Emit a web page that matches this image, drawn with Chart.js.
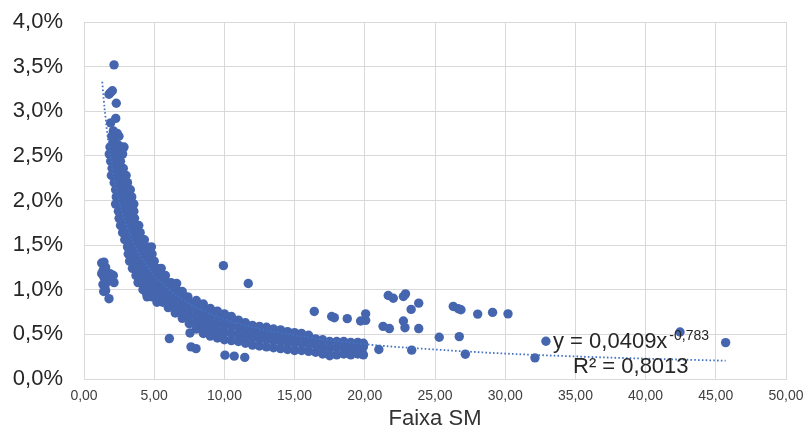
<!DOCTYPE html>
<html><head><meta charset="utf-8">
<script src="https://cdn.jsdelivr.net/npm/chart.js@4.4.1/dist/chart.umd.min.js"></script>
<style>html,body{margin:0;padding:0;background:#fff}</style>
</head><body>
<canvas id="c" width="806" height="434"></canvas>
<script>
// ---- Data (x = Faixa SM, y = percent) ----
const xTicks = [0,5,10,15,20,25,30,35,40,45,50];
const yTicks = [0,0.5,1,1.5,2,2.5,3,3.5,4];

const nuvemTopo = [
 [2.14,3.52],[1.78,3.19],[1.9,3.21],[2.02,3.23],[2.3,3.09],[2.26,2.92],[1.9,2.87],[2.09,2.78],
 [2.37,2.75],[2.49,2.72],[2.2,2.70],[1.97,2.72],[2.05,2.65],[2.8,2.59],[2.45,2.62]
];

const faixaIngreme = [
 [1.85,2.60],[2.25,2.60],[2.6,2.60],[2.85,2.60],
 [1.8,2.52],[2.1,2.52],[2.45,2.52],[2.75,2.52],
 [1.9,2.44],[2.25,2.44],[2.6,2.44],
 [2.0,2.36],[2.4,2.36],[2.8,2.36],
 [1.95,2.28],[2.3,2.28],[2.7,2.28],[3.0,2.28],
 [2.15,2.20],[2.5,2.20],[2.85,2.20],[3.1,2.20],
 [2.25,2.12],[2.6,2.12],[2.95,2.12],[3.3,2.12],
 [2.3,2.04],[2.65,2.04],[3.0,2.04],[3.4,2.04],
 [2.25,1.96],[2.6,1.96],[2.95,1.96],[3.3,1.96],[3.55,1.96],
 [2.45,1.88],[2.8,1.88],[3.15,1.88],[3.55,1.88],
 [2.5,1.80],[2.85,1.80],[3.2,1.80],[3.6,1.80],
 [2.6,1.72],[2.95,1.72],[3.3,1.72],[3.65,1.72],[3.9,1.72],
 [2.75,1.64],[3.1,1.64],[3.45,1.64],[3.8,1.64],[4.0,1.64],
 [2.9,1.56],[3.25,1.56],[3.6,1.56],[3.95,1.56],[4.3,1.56],
 [3.1,1.48],[3.45,1.48],[3.8,1.48],[4.15,1.48],[4.5,1.48],[4.8,1.48],
 [3.15,1.40],[3.5,1.40],[3.85,1.40],[4.2,1.40],[4.55,1.40],[4.85,1.40],
 [3.25,1.32],[3.6,1.32],[3.95,1.32],[4.3,1.32],[4.65,1.32],[5.0,1.32],
 [3.45,1.24],[3.8,1.24],[4.15,1.24],[4.5,1.24],[4.85,1.24],[5.2,1.24],[5.5,1.24],
 [3.7,1.16],[4.05,1.16],[4.4,1.16],[4.75,1.16],[5.1,1.16],[5.45,1.16],[5.8,1.16],
 [3.85,1.08],[4.2,1.08],[4.55,1.08],[4.9,1.08],[5.25,1.08],[5.6,1.08],[5.95,1.08],[6.2,1.08],
 [4.2,1.00],[4.55,1.00],[4.9,1.00],[5.25,1.00],[5.6,1.00],[5.95,1.00],[6.3,1.00],[6.6,1.00],
 [4.5,0.92],[4.85,0.92],[5.2,0.92],[5.55,0.92],[5.9,0.92],[6.25,0.92],[6.6,0.92],[7.0,0.92],[7.4,0.92],
 [4.47,0.95],[5.2,0.86],[5.6,0.86],[6.0,0.86],[6.0,0.80]
];

const faixaCauda = [
 [6.5,0.74],[6.5,0.82],[6.5,0.90],[6.5,0.98],[6.5,1.05],
 [7.0,0.68],[7.0,0.76],[7.0,0.84],[7.0,0.98],
 [7.5,0.62],[7.5,0.70],[7.5,0.78],[7.5,0.86],
 [8.0,0.56],[8.0,0.64],[8.0,0.72],[8.0,0.80],[8.0,0.88],
 [8.5,0.51],[8.5,0.59],[8.5,0.67],[8.5,0.75],[8.5,0.84],
 [9.0,0.48],[9.0,0.56],[9.0,0.64],[9.0,0.72],[9.0,0.79],
 [9.5,0.46],[9.5,0.54],[9.5,0.62],[9.5,0.70],[9.5,0.76],
 [10.0,0.44],[10.0,0.52],[10.0,0.60],[10.0,0.68],[10.0,0.73],
 [10.5,0.43],[10.5,0.51],[10.5,0.59],[10.5,0.66],[10.5,0.70],
 [11.0,0.42],[11.0,0.50],[11.0,0.58],[11.0,0.66],
 [11.5,0.40],[11.5,0.48],[11.5,0.56],[11.5,0.63],
 [12.0,0.38],[12.0,0.46],[12.0,0.53],[12.0,0.60],
 [12.5,0.37],[12.5,0.45],[12.5,0.52],[12.5,0.59],
 [13.0,0.36],[13.0,0.44],[13.0,0.51],[13.0,0.58],
 [13.5,0.35],[13.5,0.43],[13.5,0.50],[13.5,0.56],
 [14.0,0.34],[14.0,0.42],[14.0,0.49],[14.0,0.55],
 [14.5,0.33],[14.5,0.41],[14.5,0.48],[14.5,0.53],
 [15.0,0.32],[15.0,0.40],[15.0,0.47],[15.0,0.52],
 [15.5,0.32],[15.5,0.40],[15.5,0.46],[15.5,0.51],
 [16.0,0.31],[16.0,0.39],[16.0,0.45],[16.0,0.49],
 [16.5,0.30],[16.5,0.38],[16.5,0.45],
 [17.0,0.28],[17.0,0.36],[17.0,0.44],
 [17.5,0.26],[17.5,0.34],[17.5,0.42],
 [18.0,0.27],[18.0,0.35],[18.0,0.42],
 [18.5,0.28],[18.5,0.35],[18.5,0.42],
 [19.0,0.27],[19.0,0.34],[19.0,0.41],
 [19.5,0.28],[19.5,0.35],[19.5,0.41],
 [19.9,0.27],[19.9,0.36],[19.9,0.40]
];

const grupoInferior = [
 [1.26,1.30],[1.42,1.31],[1.54,1.25],[1.37,1.22],[1.42,1.14],[1.26,1.18],[1.6,1.17],[1.85,1.18],
 [2.09,1.16],[2.14,1.08],[1.5,1.05],[1.54,0.99],[1.35,1.06],[1.4,0.98],[1.78,0.90],[1.75,1.10]
];

const dispersos = [
 [9.93,1.27],[11.7,1.07],[6.6,1.07],[10.04,0.71],[6.08,0.453],[7.55,0.516],[7.62,0.36],[7.98,0.34],
 [10.04,0.267],[10.7,0.256],[11.45,0.242],
 [16.4,0.757],[17.64,0.70],[17.83,0.687],[18.75,0.676],[19.7,0.65],[20.06,0.657],[20.06,0.73],
 [21.67,0.935],[22.03,0.905],[22.75,0.924],[22.9,0.954],[23.84,0.85],[23.3,0.78],
 [21.3,0.59],[21.75,0.565],[22.75,0.65],[22.86,0.575],[23.84,0.565],
 [26.3,0.813],[26.66,0.787],[26.85,0.776],[28.04,0.727],[29.1,0.746],[30.2,0.73],
 [25.3,0.468],[26.73,0.475],[27.16,0.278],[23.34,0.323],[21.0,0.33],[19.85,0.38],[19.85,0.28],
 [32.9,0.423],[32.12,0.237],[42.45,0.527],[45.7,0.408]
];

// trendline (y = 0,0409x^-0,783)
const tendencia = [
 [1.3,3.33],[1.4,3.14],[1.5,2.98],[1.7,2.70],[2,2.38],[2.3,2.13],[2.7,1.88],[3,1.73],[3.5,1.53],
 [4,1.38],[5,1.16],[6,1.01],[7,0.89],[8,0.80],[10,0.67],[12,0.58],[15,0.49],[20,0.39],[25,0.33],
 [30,0.285],[35,0.253],[40,0.228],[45.7,0.205]
];

const equacao = "y = 0,0409x";
const expoente = "-0,783";
const r2 = "R\u00B2 = 0,8013";
const tituloX = "Faixa SM";

// ---- Chart ----
const FONT = '"Liberation Sans", Arial, sans-serif';
const toPts = a => a.map(([x, y]) => ({x, y}));
const pontos = [...nuvemTopo, ...faixaIngreme, ...faixaCauda, ...grupoInferior, ...dispersos];
const BLUE = '#4566AE';

const rotulo = {
  id: 'rotulo',
  afterDatasetsDraw(chart) {
    const {ctx, chartArea: a} = chart;
    ctx.save();
    ctx.fillStyle = '#262626';
    ctx.textBaseline = 'alphabetic';
    ctx.textAlign = 'left';
    ctx.font = '22px ' + FONT;
    const x1 = a.right - 233, y1 = a.bottom - 31;
    ctx.fillText(equacao, x1, y1);
    const w = ctx.measureText(equacao).width;
    ctx.fillText(r2, a.right - 213, a.bottom - 6);
    ctx.font = '14px ' + FONT;
    ctx.fillText(expoente, x1 + w + 2, y1 - 8);
    ctx.restore();
  }
};

const semPad = s => { s.paddingTop = 0; s.paddingBottom = 0; s.paddingLeft = 0; s.paddingRight = 0; };

new Chart(document.getElementById('c'), {
  type: 'scatter',
  data: {
    datasets: [
      {
        type: 'line',
        data: toPts(tendencia),
        borderColor: '#4472C4',
        borderWidth: 1.8,
        borderDash: [1.6, 2.2],
        pointRadius: 0,
        fill: false,
        cubicInterpolationMode: 'monotone',
        order: 0
      },
      {
        data: toPts(pontos),
        backgroundColor: BLUE,
        borderWidth: 0,
        pointRadius: 4.7,
        order: 1
      }
    ]
  },
  options: {
    responsive: false,
    animation: false,
    devicePixelRatio: 1,
    events: [],
    layout: {padding: {top: 22, right: 20, left: 0, bottom: 0}},
    plugins: {legend: {display: false}, tooltip: {enabled: false}},
    scales: {
      x: {
        type: 'linear', min: 0, max: 50,
        afterBuildTicks: s => { s.ticks = xTicks.map(v => ({value: v})); },
        afterFit: s => { s.height = 55; semPad(s); },
        grid: {color: '#d9d9d9', lineWidth: 1, drawTicks: false},
        border: {color: '#d9d9d9'},
        ticks: {
          padding: 9, maxRotation: 0, autoSkip: false,
          color: '#404040', font: {family: FONT, size: 14},
          callback: v => v.toFixed(2).replace('.', ',')
        },
        title: {display: true, text: tituloX, color: '#333', font: {family: FONT, size: 22}, padding: {top: 0, bottom: 2}}
      },
      y: {
        type: 'linear', min: 0, max: 4,
        afterBuildTicks: s => { s.ticks = yTicks.map(v => ({value: v})); },
        afterFit: s => { s.width = 84; semPad(s); },
        grid: {color: '#d9d9d9', lineWidth: 1, drawTicks: false},
        border: {color: '#d9d9d9'},
        ticks: {
          padding: 21, color: '#262626', font: {family: FONT, size: 22},
          callback: v => v.toFixed(1).replace('.', ',') + '%'
        }
      }
    }
  },
  plugins: [rotulo]
});
</script>
</body></html>
